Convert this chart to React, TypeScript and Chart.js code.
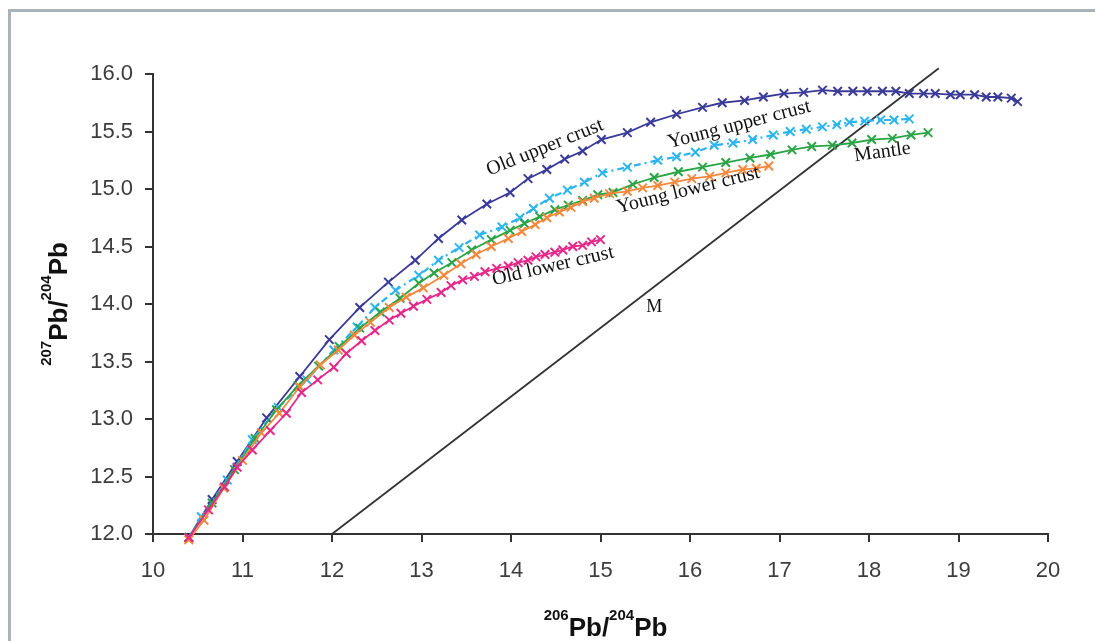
import React, { useEffect, useRef } from 'react';
import { Chart, registerables } from 'chart.js';

Chart.register(...registerables);

// ---- Data ----
const xTicks = [10, 11, 12, 13, 14, 15, 16, 17, 18, 19, 20];
const yTicks = [12.0, 12.5, 13.0, 13.5, 14.0, 14.5, 15.0, 15.5, 16.0];

const oldUpperX = [10.40, 10.66, 10.94, 11.27, 11.64, 11.97, 12.31, 12.63, 12.93, 13.19, 13.45, 13.73, 13.99, 14.19, 14.40, 14.60, 14.80, 15.01, 15.30, 15.56, 15.85, 16.14, 16.36, 16.61, 16.82, 17.05, 17.27, 17.48, 17.65, 17.82, 17.98, 18.15, 18.30, 18.45, 18.61, 18.74, 18.91, 19.02, 19.18, 19.31, 19.44, 19.59, 19.66];
const oldUpperY = [11.97, 12.30, 12.63, 13.01, 13.37, 13.69, 13.97, 14.19, 14.38, 14.57, 14.73, 14.87, 14.97, 15.09, 15.17, 15.26, 15.33, 15.43, 15.49, 15.58, 15.65, 15.71, 15.75, 15.77, 15.80, 15.83, 15.84, 15.86, 15.85, 15.85, 15.85, 15.85, 15.85, 15.83, 15.83, 15.83, 15.82, 15.82, 15.82, 15.80, 15.80, 15.79, 15.76];

const youngUpperX = [10.40, 10.54, 10.83, 11.11, 11.40, 11.72, 12.02, 12.28, 12.48, 12.71, 12.97, 13.19, 13.42, 13.65, 13.90, 14.10, 14.25, 14.43, 14.63, 14.82, 15.02, 15.30, 15.64, 15.85, 16.06, 16.27, 16.48, 16.70, 16.93, 17.12, 17.30, 17.48, 17.64, 17.78, 17.95, 18.13, 18.28, 18.45];
const youngUpperY = [11.97, 12.15, 12.47, 12.82, 13.10, 13.34, 13.60, 13.80, 13.97, 14.12, 14.25, 14.38, 14.49, 14.60, 14.67, 14.75, 14.83, 14.92, 14.99, 15.06, 15.14, 15.19, 15.25, 15.28, 15.32, 15.38, 15.40, 15.43, 15.47, 15.50, 15.52, 15.54, 15.56, 15.58, 15.59, 15.60, 15.60, 15.61];

const mantleX = [10.40, 10.66, 10.91, 11.14, 11.38, 11.62, 11.85, 12.08, 12.31, 12.54, 12.76, 12.97, 13.14, 13.34, 13.56, 13.78, 13.99, 14.15, 14.32, 14.49, 14.64, 14.80, 14.97, 15.14, 15.36, 15.60, 15.87, 16.14, 16.40, 16.67, 16.90, 17.14, 17.36, 17.59, 17.81, 18.03, 18.26, 18.47, 18.66];
const mantleY = [11.97, 12.27, 12.56, 12.83, 13.08, 13.29, 13.46, 13.63, 13.79, 13.93, 14.05, 14.18, 14.27, 14.36, 14.47, 14.56, 14.64, 14.70, 14.76, 14.82, 14.86, 14.90, 14.95, 14.97, 15.04, 15.10, 15.15, 15.19, 15.23, 15.27, 15.30, 15.34, 15.37, 15.38, 15.40, 15.43, 15.44, 15.47, 15.49];

const youngLowerX = [10.40, 10.57, 10.79, 11.00, 11.21, 11.41, 11.64, 11.87, 12.07, 12.25, 12.43, 12.64, 12.83, 13.02, 13.25, 13.44, 13.61, 13.78, 13.97, 14.12, 14.27, 14.40, 14.54, 14.67, 14.80, 14.93, 15.10, 15.30, 15.47, 15.64, 15.83, 16.02, 16.22, 16.40, 16.59, 16.74, 16.88];
const youngLowerY = [11.95, 12.12, 12.40, 12.64, 12.88, 13.05, 13.28, 13.47, 13.60, 13.73, 13.84, 13.97, 14.06, 14.14, 14.25, 14.35, 14.43, 14.50, 14.57, 14.63, 14.69, 14.75, 14.80, 14.84, 14.89, 14.92, 14.96, 14.98, 15.01, 15.03, 15.06, 15.09, 15.11, 15.14, 15.17, 15.18, 15.20];

const oldLowerX = [10.40, 10.62, 10.80, 10.94, 11.11, 11.31, 11.49, 11.66, 11.84, 12.02, 12.16, 12.33, 12.48, 12.64, 12.77, 12.91, 13.06, 13.22, 13.33, 13.46, 13.59, 13.71, 13.84, 13.97, 14.08, 14.19, 14.28, 14.38, 14.49, 14.58, 14.69, 14.80, 14.90, 15.00];
const oldLowerY = [11.97, 12.21, 12.41, 12.58, 12.73, 12.90, 13.05, 13.23, 13.34, 13.45, 13.57, 13.68, 13.77, 13.86, 13.92, 13.98, 14.04, 14.10, 14.16, 14.21, 14.24, 14.28, 14.31, 14.33, 14.36, 14.38, 14.41, 14.43, 14.45, 14.47, 14.50, 14.51, 14.54, 14.56];

const mLineX = [12.0, 18.78];
const mLineY = [12.0, 16.05];

const curveLabels = ['Old upper crust', 'Young upper crust', 'Young lower crust', 'Old lower crust', 'Mantle', 'M'];
const curveLabelX = [14.38, 16.55, 15.98, 14.47, 18.15, 15.60];
const curveLabelY = [15.36, 15.56, 14.99, 14.33, 15.32, 13.97];
const curveLabelAngle = [-22, -14.5, -14, -13, -8, 0];

const xTitleParts = [['206', true], ['Pb/', false], ['204', true], ['Pb', false]];
const yTitleParts = [['207', true], ['Pb/', false], ['204', true], ['Pb', false]];

const zip = (xs: number[], ys: number[]) => xs.map((x, i) => ({ x, y: ys[i] }));

const AREA_LEFT = 153;
const AREA_RIGHT = 1048;
const AREA_TOP = 74;
const AREA_BOTTOM = 534;
const W = 1095;
const H = 641;

const TICK_FONT = { family: '"Liberation Sans", Arial, sans-serif', size: 22 };

export default function App() {
  const ref = useRef<HTMLCanvasElement | null>(null);

  useEffect(() => {
    if (!ref.current) return;

    const labelPlugin = {
      id: 'curveLabels',
      afterDatasetsDraw(chart: any) {
        const { ctx } = chart;
        const xs = chart.scales.x;
        const ys = chart.scales.y;
        ctx.save();
        ctx.fillStyle = '#111';
        ctx.textAlign = 'center';
        ctx.textBaseline = 'middle';
        curveLabels.forEach((t, i) => {
          ctx.save();
          ctx.translate(xs.getPixelForValue(curveLabelX[i]), ys.getPixelForValue(curveLabelY[i]));
          ctx.rotate((curveLabelAngle[i] * Math.PI) / 180);
          ctx.font = `${t === 'M' ? 18 : 20}px "Liberation Serif", "Times New Roman", serif`;
          ctx.fillText(t, 0, 0);
          ctx.restore();
        });
        ctx.restore();
      },
    };

    const drawParts = (ctx: CanvasRenderingContext2D, parts: any[]) => {
      const big = 'bold 26px "Liberation Sans", Arial, sans-serif';
      const small = 'bold 15px "Liberation Sans", Arial, sans-serif';
      let total = 0;
      parts.forEach(([t, sup]) => {
        ctx.font = sup ? small : big;
        total += ctx.measureText(t).width;
      });
      let x = -total / 2;
      ctx.textAlign = 'left';
      ctx.textBaseline = 'alphabetic';
      ctx.fillStyle = '#111';
      parts.forEach(([t, sup]) => {
        ctx.font = sup ? small : big;
        ctx.fillText(t, x, sup ? -16 : 0);
        x += ctx.measureText(t).width;
      });
    };

    const titlePlugin = {
      id: 'axisTitles',
      afterDraw(chart: any) {
        const { ctx, chartArea } = chart;
        ctx.save();
        ctx.translate((chartArea.left + chartArea.right) / 2 + 5, H - 5);
        drawParts(ctx, xTitleParts);
        ctx.restore();
        ctx.save();
        ctx.translate(67, (chartArea.top + chartArea.bottom) / 2);
        ctx.rotate(-Math.PI / 2);
        drawParts(ctx, yTitleParts);
        ctx.restore();
      },
    };

    const series = (label: string, xs: number[], ys: number[], color: string, extra: any = {}) => ({
      label,
      data: zip(xs, ys),
      showLine: true,
      borderColor: color,
      backgroundColor: color,
      borderWidth: 1.8,
      pointStyle: 'crossRot',
      pointRadius: 6,
      pointBorderWidth: 2,
      pointBorderColor: color,
      clip: false,
      ...extra,
    });

    const chart = new Chart(ref.current, {
      type: 'scatter',
      data: {
        datasets: [
          series('Old lower crust', oldLowerX, oldLowerY, '#e6288a'),
          series('Young lower crust', youngLowerX, youngLowerY, '#f5883c'),
          series('Mantle', mantleX, mantleY, '#2aa446'),
          series('Young upper crust', youngUpperX, youngUpperY, '#2bb4ee', { borderDash: [7, 4, 2, 4], borderWidth: 2.2 }),
          series('Old upper crust', oldUpperX, oldUpperY, '#3a3a98'),
          {
            label: 'M',
            data: zip(mLineX, mLineY),
            showLine: true,
            borderColor: '#333',
            borderWidth: 1.8,
            pointRadius: 0,
            clip: false,
          },
        ],
      },
      options: {
        animation: false,
        responsive: true,
        maintainAspectRatio: false,
        layout: { padding: { left: 0, top: AREA_TOP, right: W - AREA_RIGHT, bottom: 0 } },
        plugins: { legend: { display: false }, tooltip: { enabled: false } },
        scales: {
          x: {
            type: 'linear',
            min: xTicks[0],
            max: xTicks[xTicks.length - 1],
            afterBuildTicks: (s: any) => { s.ticks = xTicks.map((v) => ({ value: v })); },
            afterFit: (s: any) => { s.height = H - AREA_BOTTOM; },
            ticks: { font: TICK_FONT, color: '#3c3c3c', padding: 16, callback: (v: any) => String(v) },
            grid: { drawOnChartArea: false, drawTicks: true, tickLength: 8, color: '#333', lineWidth: 2 },
            border: { color: '#333', width: 2 },
          },
          y: {
            type: 'linear',
            min: yTicks[0],
            max: yTicks[yTicks.length - 1],
            afterBuildTicks: (s: any) => { s.ticks = yTicks.map((v) => ({ value: v })); },
            afterFit: (s: any) => { s.width = AREA_LEFT; },
            ticks: { font: TICK_FONT, color: '#3c3c3c', padding: 12, callback: (v: any) => Number(v).toFixed(1) },
            grid: { drawOnChartArea: false, drawTicks: true, tickLength: 8, color: '#333', lineWidth: 2 },
            border: { color: '#333', width: 2 },
          },
        },
      },
      plugins: [labelPlugin, titlePlugin],
    } as any);

    return () => chart.destroy();
  }, []);

  return (
    <div style={{ position: 'absolute', left: 0, top: 0, width: W, height: H, overflow: 'hidden', background: '#fff' }}>
      <div
        style={{
          position: 'absolute',
          left: 8,
          top: 9,
          width: 1300,
          height: 900,
          borderLeft: '3px solid #a9b3b8',
          borderTop: '3px solid #a9b3b8',
        }}
      />
      <div style={{ position: 'absolute', left: 0, top: 0, width: W, height: H }}>
        <canvas ref={ref} />
      </div>
    </div>
  );
}
